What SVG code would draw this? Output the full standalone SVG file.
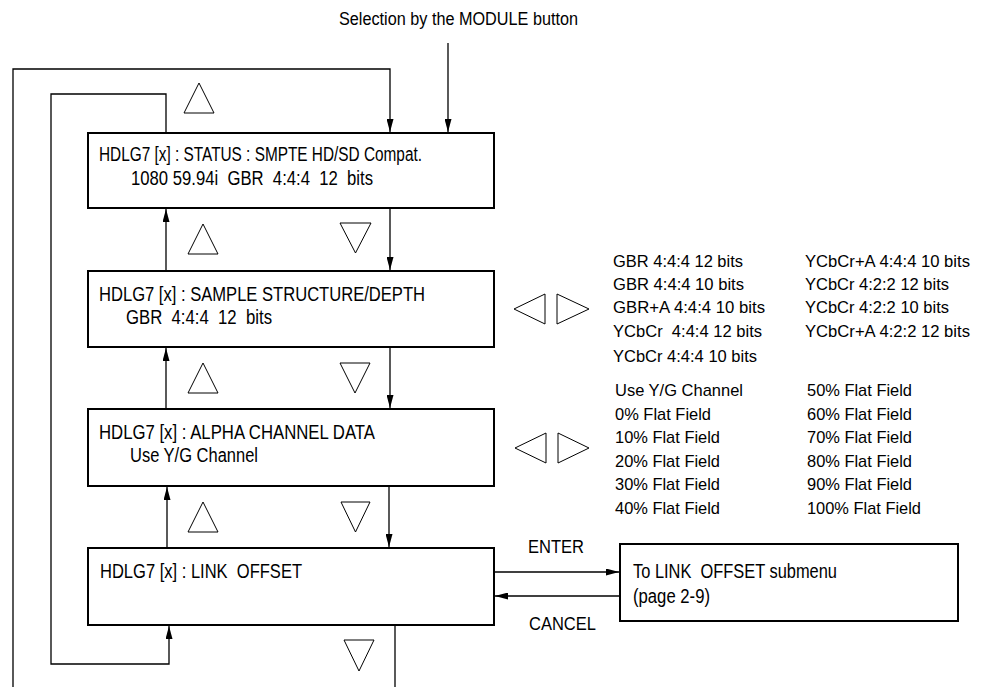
<svg xmlns="http://www.w3.org/2000/svg" width="987" height="687" viewBox="0 0 987 687">
<defs>
<style>
.box{fill:#fff;stroke:#000;stroke-width:2}
.ln{fill:none;stroke:#000;stroke-width:1.3}
.tri{fill:none;stroke:#000;stroke-width:1}
text{font-family:"Liberation Sans",Arial,sans-serif;fill:#000}
.bt{font-size:20px}
.lt{font-size:17px}
.lb{font-size:18px}
</style>
<marker id="ah" viewBox="0 0 13 7" refX="13" refY="3.5" markerWidth="13" markerHeight="7" orient="auto" markerUnits="userSpaceOnUse"><path d="M0,0 L13,3.5 L0,7 z" fill="#000"/></marker>
</defs>
<rect width="987" height="687" fill="#fff"/>

<text class="lb" x="339" y="25" textLength="239" lengthAdjust="spacingAndGlyphs">Selection by the MODULE button</text>

<g id="connectors">
<path class="ln" d="M448,43 V132" marker-end="url(#ah)"/>
<path class="ln" d="M13,687 V69 H390 V132" marker-end="url(#ah)"/>
<path class="ln" d="M166,133 V94 H51 V664 H169 V626" marker-end="url(#ah)"/>
<path class="ln" d="M395,625 V687"/>
<path class="ln" d="M390,208 V270" marker-end="url(#ah)"/>
<path class="ln" d="M166,271 V209" marker-end="url(#ah)"/>
<path class="ln" d="M390,347 V408" marker-end="url(#ah)"/>
<path class="ln" d="M166,409 V348" marker-end="url(#ah)"/>
<path class="ln" d="M389,486 V547" marker-end="url(#ah)"/>
<path class="ln" d="M167,548 V487" marker-end="url(#ah)"/>
<path class="ln" d="M494,572 H619" marker-end="url(#ah)"/>
<path class="ln" d="M620,596 H495" marker-end="url(#ah)"/>
<text class="lb" x="528" y="553" textLength="56" lengthAdjust="spacingAndGlyphs">ENTER</text>
<text class="lb" x="529" y="630" textLength="67" lengthAdjust="spacingAndGlyphs">CANCEL</text>
</g>

<g id="nav-symbols">
<polygon class="tri" points="184,113 214,113 199,83"/>
<polygon class="tri" points="188,254 218,254 203,224"/>
<polygon class="tri" points="340,223 371,223 355.5,253"/>
<polygon class="tri" points="188,393 218,393 203,363"/>
<polygon class="tri" points="340,363 370,363 355,393"/>
<polygon class="tri" points="188,532 218,532 203,502"/>
<polygon class="tri" points="341,502 370,502 355.5,532"/>
<polygon class="tri" points="344,640 374,640 359,671"/>
<polygon class="tri" points="514,309 545,294 545,324"/>
<polygon class="tri" points="557,294 589,309 557,324"/>
<polygon class="tri" points="515,448 546,433 546,463"/>
<polygon class="tri" points="558,433 589,448 558,463"/>
</g>

<g id="status">
<rect class="box" x="88" y="133" width="406" height="75"/>
<text class="bt" x="99" y="161" textLength="323" lengthAdjust="spacingAndGlyphs">HDLG7 [x] : STATUS : SMPTE HD/SD Compat.</text>
<text class="bt" x="131" y="185" textLength="242" lengthAdjust="spacingAndGlyphs" xml:space="preserve">1080 59.94i  GBR  4:4:4  12  bits</text>
</g>

<g id="sample-structure">
<rect class="box" x="88" y="271" width="406" height="76"/>
<text class="bt" x="99" y="301" textLength="326" lengthAdjust="spacingAndGlyphs">HDLG7 [x] : SAMPLE STRUCTURE/DEPTH</text>
<text class="bt" x="126" y="324" textLength="146" lengthAdjust="spacingAndGlyphs" xml:space="preserve">GBR  4:4:4  12  bits</text>
</g>

<g id="alpha-channel">
<rect class="box" x="88" y="409" width="406" height="77"/>
<text class="bt" x="99" y="439" textLength="276" lengthAdjust="spacingAndGlyphs">HDLG7 [x] : ALPHA CHANNEL DATA</text>
<text class="bt" x="130" y="462" textLength="128" lengthAdjust="spacingAndGlyphs">Use Y/G Channel</text>
</g>

<g id="link-offset">
<rect class="box" x="88" y="548" width="406" height="77"/>
<text class="bt" x="100" y="578" textLength="202" lengthAdjust="spacingAndGlyphs" xml:space="preserve">HDLG7 [x] : LINK  OFFSET</text>
</g>

<g id="link-offset-submenu">
<rect class="box" x="620" y="544" width="338" height="77"/>
<text class="bt" x="633" y="578" textLength="204" lengthAdjust="spacingAndGlyphs" xml:space="preserve">To LINK  OFFSET submenu</text>
<text class="bt" x="633" y="603" textLength="77" lengthAdjust="spacingAndGlyphs">(page 2-9)</text>
</g>

<g id="sample-structure-options">
<text class="lt" x="613" y="267" textLength="130" lengthAdjust="spacingAndGlyphs">GBR 4:4:4 12 bits</text>
<text class="lt" x="613" y="290" textLength="131" lengthAdjust="spacingAndGlyphs">GBR 4:4:4 10 bits</text>
<text class="lt" x="613" y="313" textLength="152" lengthAdjust="spacingAndGlyphs">GBR+A 4:4:4 10 bits</text>
<text class="lt" x="613" y="337" textLength="149" lengthAdjust="spacingAndGlyphs" xml:space="preserve">YCbCr  4:4:4 12 bits</text>
<text class="lt" x="613" y="362" textLength="144" lengthAdjust="spacingAndGlyphs">YCbCr 4:4:4 10 bits</text>
<text class="lt" x="805" y="267" textLength="165" lengthAdjust="spacingAndGlyphs">YCbCr+A 4:4:4 10 bits</text>
<text class="lt" x="805" y="290" textLength="144" lengthAdjust="spacingAndGlyphs">YCbCr 4:2:2 12 bits</text>
<text class="lt" x="805" y="313" textLength="144" lengthAdjust="spacingAndGlyphs">YCbCr 4:2:2 10 bits</text>
<text class="lt" x="805" y="337" textLength="165" lengthAdjust="spacingAndGlyphs">YCbCr+A 4:2:2 12 bits</text>
</g>

<g id="alpha-channel-options">
<text class="lt" x="615" y="396" textLength="128" lengthAdjust="spacingAndGlyphs">Use Y/G Channel</text>
<text class="lt" x="615" y="419.5" textLength="96" lengthAdjust="spacingAndGlyphs">0% Flat Field</text>
<text class="lt" x="615" y="443" textLength="105" lengthAdjust="spacingAndGlyphs">10% Flat Field</text>
<text class="lt" x="615" y="466.5" textLength="105" lengthAdjust="spacingAndGlyphs">20% Flat Field</text>
<text class="lt" x="615" y="490" textLength="105" lengthAdjust="spacingAndGlyphs">30% Flat Field</text>
<text class="lt" x="615" y="513.5" textLength="105" lengthAdjust="spacingAndGlyphs">40% Flat Field</text>
<text class="lt" x="807" y="396" textLength="105" lengthAdjust="spacingAndGlyphs">50% Flat Field</text>
<text class="lt" x="807" y="419.5" textLength="105" lengthAdjust="spacingAndGlyphs">60% Flat Field</text>
<text class="lt" x="807" y="443" textLength="105" lengthAdjust="spacingAndGlyphs">70% Flat Field</text>
<text class="lt" x="807" y="466.5" textLength="105" lengthAdjust="spacingAndGlyphs">80% Flat Field</text>
<text class="lt" x="807" y="490" textLength="105" lengthAdjust="spacingAndGlyphs">90% Flat Field</text>
<text class="lt" x="807" y="513.5" textLength="114" lengthAdjust="spacingAndGlyphs">100% Flat Field</text>
</g>
</svg>
